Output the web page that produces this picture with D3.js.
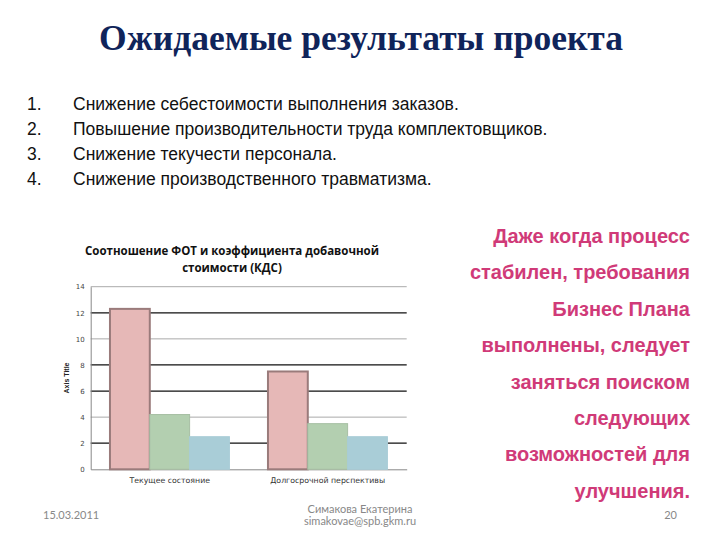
<!DOCTYPE html>
<html><head><meta charset="utf-8">
<script src="https://cdn.jsdelivr.net/npm/d3@7"></script>
<style>body{margin:0;background:#fff}svg{display:block}</style>
</head><body>
<svg id="c" width="720" height="540"></svg>
<script>
const slideTitle = "Ожидаемые результаты проекта";
const listItems = [
  "Снижение себестоимости выполнения заказов.",
  "Повышение производительности труда комплектовщиков.",
  "Снижение текучести персонала.",
  "Снижение производственного травматизма."
];
const noteLines = ["Даже когда процесс","стабилен, требования","Бизнес Плана","выполнены, следует","заняться поиском","следующих","возможностей для","улучшения."];
const chartTitle = ["Соотношение ФОТ и коэффициента добавочной","стоимости (КДС)"];
const categories = ["Текущее состояние","Долгосрочной перспективы"];
const seriesNames = ["s1","s2","s3"];
const seriesA = [12.3, 7.5];
const seriesB = [4.2, 3.5];
const seriesC = [2.5, 2.5];
const yTicks = [0,2,4,6,8,10,12,14];
const footerLeft = "15.03.2011";
const footerCenter = ["Симакова Екатерина","simakovae@spb.gkm.ru"];
const footerRight = "20";

const svg = d3.select("#c");
svg.append("text").attr("x",361).attr("y",50).attr("text-anchor","middle")
  .attr("font-family","Liberation Serif").attr("font-weight","bold").attr("font-size",35.5)
  .attr("fill","#10245a").text(slideTitle);

listItems.forEach((t,i)=>{
  const y = 110 + i*25;
  svg.append("text").attr("x",27).attr("y",y).attr("font-family","Liberation Sans").attr("font-size",17.5).attr("fill","#111").text((i+1)+".");
  svg.append("text").attr("x",73).attr("y",y).attr("font-family","Liberation Sans").attr("font-size",17.5).attr("fill","#111").text(t);
});

noteLines.forEach((t,i)=>{
  svg.append("text").attr("x",690).attr("y",243 + i*36.4).attr("text-anchor","end")
    .attr("font-family","Liberation Sans").attr("font-weight","bold").attr("font-size",20)
    .attr("fill","#d03a78").text(t);
});

// chart
const L=90.7, R=406.7, T=286.7, B=469.3;
const y = d3.scaleLinear().domain([0,14]).range([B,T]);
const x0 = d3.scaleBand().domain(categories).range([L,R]);
const bw = x0.bandwidth();
const x1 = d3.scaleBand().domain(seriesNames).range([bw*0.122, bw*0.878]);
const table = categories.map((c,i)=>({c, vals:[seriesA[i],seriesB[i],seriesC[i]]}));
const fills = ["#e6b8b7","#b3cfb0","#a9cdd7"];
const strokes = ["#9a7b7b","#a7bfa4","#a9cdd7"];

chartTitle.forEach((t,i)=>{
  svg.append("text").attr("x",232).attr("y",255 + i*17).attr("text-anchor","middle")
    .attr("font-family","Open Sans").attr("font-weight","bold").attr("font-size",11.5)
    .attr("fill","#111").text(t);
});

const gridDark = new Set([2,6,8,12]);
svg.append("g").selectAll("line").data(yTicks.filter(d=>d>0)).join("line")
  .attr("x1",L).attr("x2",R).attr("y1",d=>y(d)).attr("y2",d=>y(d))
  .attr("stroke",d=>gridDark.has(d)?"#111":"#aaa").attr("stroke-width",d=>gridDark.has(d)?1.3:1);

const yAxis = svg.append("g").attr("transform",`translate(${L},0)`).call(d3.axisLeft(y).tickValues(yTicks).tickSize(0).tickPadding(6));
yAxis.select(".domain").attr("stroke","#888");
yAxis.selectAll("text").attr("font-family","DejaVu Sans").attr("font-size",7).attr("fill","#444");
const xAxis = svg.append("g").attr("transform",`translate(0,${B})`).call(d3.axisBottom(x0).tickSize(0).tickPadding(8));
xAxis.select(".domain").attr("stroke","#888");
xAxis.selectAll("text").attr("font-family","DejaVu Sans").attr("font-size",7.8).attr("fill","#333");

svg.append("text").attr("transform",`translate(69,${(T+B)/2}) rotate(-90)`).attr("text-anchor","middle")
  .attr("font-family","Liberation Sans").attr("font-weight","bold").attr("font-size",7).attr("fill","#222").text("Axis Title");

const g = svg.append("g").selectAll("g").data(table).join("g").attr("transform",d=>`translate(${x0(d.c)},0)`);
g.selectAll("rect").data(d=>d.vals.map((v,i)=>({v,i}))).join("rect")
  .attr("x",d=>x1(seriesNames[d.i])).attr("width",x1.bandwidth())
  .attr("y",d=>y(d.v)).attr("height",d=>B-y(d.v))
  .attr("fill",d=>fills[d.i]).attr("stroke",d=>strokes[d.i]).attr("stroke-width",d=>d.i===0?2:1);

// footer
svg.append("text").attr("x",43).attr("y",518.5).attr("font-family","Lato").attr("font-size",11).attr("fill","#888").text(footerLeft);
const fc = [513, 524.5];
footerCenter.forEach((t,i)=>{
  svg.append("text").attr("x",360).attr("y",fc[i]).attr("text-anchor","middle").attr("font-family","Lato").attr("font-size",11).attr("fill","#888").text(t);
});
svg.append("text").attr("x",677).attr("y",518.5).attr("text-anchor","end").attr("font-family","Lato").attr("font-size",11).attr("fill","#888").text(footerRight);
</script>
</body></html>
